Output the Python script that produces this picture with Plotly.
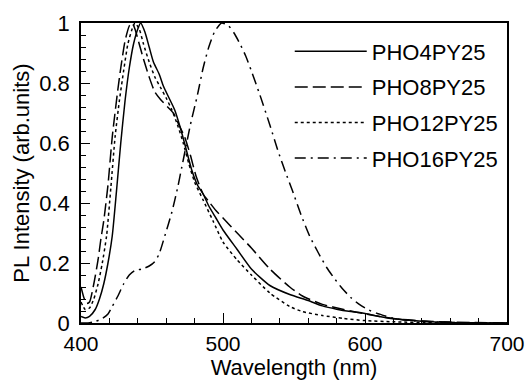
import plotly.graph_objects as go

# PHO4PY25 (solid)
wl_4 = [400, 403, 406, 410, 413, 416, 419, 422, 425, 428, 431, 434, 437, 440, 442, 445, 448, 451, 455, 458, 462,
        466, 470, 474, 478, 482, 486, 490, 495, 500, 510, 520, 533, 547, 560, 570, 580, 590, 600, 610, 620, 640,
        660, 700]
pl_4 = [0.022, 0.017, 0.022, 0.045, 0.08, 0.13, 0.20, 0.29, 0.44, 0.60, 0.74, 0.85, 0.93, 0.98, 1.0, 0.97, 0.92,
        0.87, 0.83, 0.79, 0.75, 0.71, 0.65, 0.58, 0.51, 0.46, 0.43, 0.39, 0.35, 0.31, 0.245, 0.18, 0.125, 0.095,
        0.075, 0.057, 0.046, 0.038, 0.032, 0.022, 0.014, 0.006, 0.002, 0.0]

# PHO8PY25 (dashed)
wl_8 = [400, 402, 404, 406, 409, 412, 414, 416, 419, 422, 426, 428, 431, 434, 436, 438, 441, 444, 448, 452, 456,
        461, 465, 469, 473, 477, 481, 486, 490, 495, 500, 510, 520, 533, 547, 556, 570, 585, 595, 610, 620, 640,
        660, 700]
pl_8 = [0.12, 0.085, 0.065, 0.07, 0.13, 0.21, 0.28, 0.34, 0.46, 0.62, 0.78, 0.85, 0.94, 0.99, 1.0, 0.98, 0.93,
        0.88, 0.82, 0.77, 0.745, 0.72, 0.70, 0.66, 0.62, 0.56, 0.49, 0.43, 0.405, 0.375, 0.35, 0.30, 0.25, 0.18,
        0.12, 0.09, 0.062, 0.045, 0.035, 0.022, 0.015, 0.007, 0.003, 0.0]

# PHO12PY25 (dotted)
wl_12 = [400, 403, 406, 409, 412, 415, 418, 421, 424, 427, 430, 433, 436, 438, 441, 444, 448, 452, 456, 460, 464,
         468, 472, 476, 480, 486, 493, 500, 510, 520, 533, 547, 556, 570, 585, 600, 620, 650, 700]
pl_12 = [0.07, 0.045, 0.05, 0.08, 0.13, 0.20, 0.29, 0.45, 0.62, 0.74, 0.84, 0.93, 0.98, 1.0, 0.98, 0.93, 0.87,
         0.82, 0.785, 0.75, 0.71, 0.66, 0.60, 0.53, 0.47, 0.41, 0.34, 0.27, 0.21, 0.16, 0.10, 0.055, 0.038, 0.025,
         0.015, 0.008, 0.004, 0.001, 0.0]

# PHO16PY25 (dash-dot)
wl_16 = [400, 405, 410, 415, 419, 422, 426, 430, 434, 438, 443, 448, 452, 455, 459, 464, 468, 471, 474, 477, 482,
         486, 490, 494, 499, 504, 508, 512, 516, 520, 526, 533, 539, 545, 549, 555, 561, 567, 573, 579, 584, 590,
         596, 602, 608, 620, 635, 650, 670, 700]
pl_16 = [0.0, 0.0, 0.005, 0.015, 0.03, 0.055, 0.09, 0.13, 0.16, 0.175, 0.18, 0.19, 0.205, 0.23, 0.29, 0.37, 0.45,
         0.52, 0.59, 0.66, 0.76, 0.85, 0.92, 0.97, 1.0, 0.99, 0.965, 0.93, 0.89, 0.84, 0.76, 0.66, 0.57, 0.49,
         0.44, 0.36, 0.29, 0.235, 0.185, 0.145, 0.115, 0.085, 0.062, 0.045, 0.033, 0.016, 0.007, 0.003, 0.001, 0.0]

names = ["PHO4PY25", "PHO8PY25", "PHO12PY25", "PHO16PY25"]
dashes = ["solid", "13px,5px", "3px,3px", "11px,5px,2px,5px"]
series = [(wl_4, pl_4), (wl_8, pl_8), (wl_12, pl_12), (wl_16, pl_16)]

x_ticks = [400, 500, 600, 700]
y_ticks = [0, 0.2, 0.4, 0.6, 0.8, 1]
y_tick_text = ["0", "0.2", "0.4", "0.6", "0.8", "1"]

fig = go.Figure()
for (wl, pl), name, dash in zip(series, names, dashes):
    fig.add_trace(go.Scatter(
        x=wl, y=pl, mode="lines", name=name, legendgroup=name,
        line=dict(color="black", width=1.5, dash=dash, shape="spline", smoothing=0.6),
    ))

font = dict(family="Liberation Sans, Arial, sans-serif", size=22, color="black")
tick_font_x = dict(family="Liberation Sans, Arial, sans-serif", size=21, color="black")
fig.update_layout(
    width=527, height=381,
    margin=dict(l=81, r=20, t=23, b=58, autoexpand=False),
    paper_bgcolor="white", plot_bgcolor="white",
    font=font,
    showlegend=True,
    legend=dict(x=0.49, y=0.975, xanchor="left", yanchor="top", bgcolor="rgba(0,0,0,0)",
                font=font, tracegroupgap=4, itemwidth=72),
)
fig.update_xaxes(
    range=[400, 700], tickvals=x_ticks, ticks="inside", ticklen=10, tickwidth=1.2, tickcolor="black",
    minor=dict(dtick=20, ticks="inside", ticklen=5, tickwidth=1.2, tickcolor="black"),
    showline=True, linecolor="black", linewidth=1.5, mirror=True, showgrid=False, zeroline=False,
    ticklabelstandoff=1, automargin=False, tickfont=tick_font_x,
    title=dict(text="Wavelength (nm)", font=font, standoff=2),
)
fig.update_yaxes(
    range=[0, 1], tickvals=y_ticks, ticktext=y_tick_text, ticks="inside", ticklen=9, tickwidth=1.2,
    tickcolor="black",
    minor=dict(dtick=0.04, ticks="inside", ticklen=5, tickwidth=1.2, tickcolor="black"),
    showline=True, linecolor="black", linewidth=1.5, mirror=True, showgrid=False, zeroline=False,
    ticklabelstandoff=5, automargin=False,
    title=dict(text="PL Intensity (arb.units)", font=font, standoff=4),
)
fig.write_html("out.html", config={"displayModeBar": False},
               post_script="document.body.style.margin='0';document.body.style.overflow='hidden';")
